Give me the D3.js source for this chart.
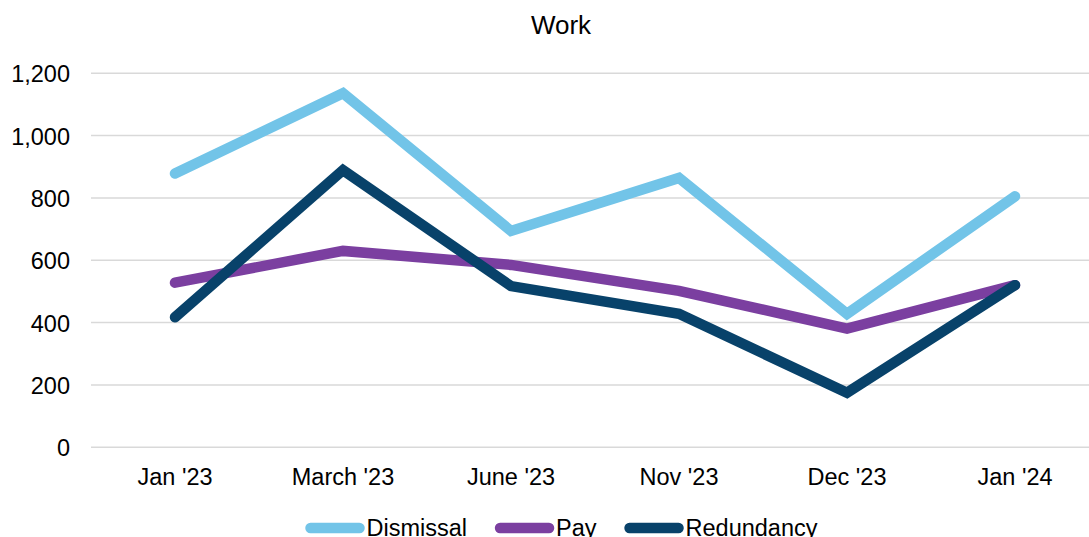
<!DOCTYPE html>
<html>
<head>
<meta charset="utf-8">
<script src="https://cdn.jsdelivr.net/npm/d3@7"></script>
<style>
  html, body { margin: 0; padding: 0; background: #fff; }
  svg { display: block; font-family: "Liberation Sans", Arial, sans-serif; }
</style>
</head>
<body>
<svg id="chart" width="1089" height="537"></svg>
<script>
const categories = ["Jan '23", "March '23", "June '23", "Nov '23", "Dec '23", "Jan '24"];
const dismissal  = [878, 1136, 694, 864, 428, 805];
const pay        = [528, 630, 585, 502, 381, 520];
const redundancy = [417, 889, 517, 428, 175, 520];
const yTicks     = [0, 200, 400, 600, 800, 1000, 1200];
const seriesNames  = ["Dismissal", "Pay", "Redundancy"];
const seriesColors = ["#72C4E8", "#7B3FA0", "#08426A"];
const title = "Work";

(function () {
const series = [dismissal, pay, redundancy].map((vals, i) => ({
  name: seriesNames[i], color: seriesColors[i], values: vals
}));

const svg = d3.select("#chart");
const plotLeft = 91, plotTop = 73.2, plotBottom = 447.3;
const band = 168;
const fs = 23.5;

const x = d3.scaleBand().domain(categories).range([plotLeft, plotLeft + band * categories.length]).paddingInner(0).paddingOuter(0);
const y = d3.scaleLinear().domain([0, 1200]).range([plotBottom, plotTop]);

// gridlines
svg.append("g").selectAll("line").data(yTicks).join("line")
  .attr("x1", plotLeft).attr("x2", plotLeft + band * categories.length)
  .attr("y1", d => y(d)).attr("y2", d => y(d))
  .attr("stroke", "#d9d9d9").attr("stroke-width", 1.5);

// y axis labels
const yAxis = d3.axisLeft(y).tickValues(yTicks).tickSize(0).tickPadding(0).tickFormat(d3.format(","));
const yg = svg.append("g").attr("transform", "translate(70,0)").call(yAxis);
yg.select(".domain").remove();
yg.selectAll("text").attr("font-size", fs).attr("fill", "#000")
  .attr("font-family", "Liberation Sans, Arial, sans-serif").attr("dy", "0.36em");

// x axis labels
const xAxis = d3.axisBottom(x).tickSize(0).tickPadding(0);
const xg = svg.append("g").attr("transform", `translate(0,${plotBottom})`).call(xAxis);
xg.select(".domain").remove();
xg.selectAll("text").attr("font-size", fs).attr("fill", "#000")
  .attr("font-family", "Liberation Sans, Arial, sans-serif").attr("dy", null).attr("y", 37.5);

// lines
const line = d3.line()
  .x((d, i) => x(categories[i]) + x.bandwidth() / 2)
  .y(d => y(d));

svg.append("g").selectAll("path").data(series).join("path")
  .attr("d", d => line(d.values))
  .attr("fill", "none")
  .attr("stroke", d => d.color)
  .attr("stroke-width", 10.5)
  .attr("stroke-linecap", "round")
  .attr("stroke-linejoin", "miter");

// title
svg.append("text").attr("x", 561).attr("y", 34).attr("text-anchor", "middle")
  .attr("font-size", 26).attr("fill", "#000").text(title);

// legend
const lg = svg.append("g");
const symW = 59, symGap = 2, itemGap = 28;
let cx = 0;
series.forEach(s => {
  const g = lg.append("g");
  g.append("line").attr("x1", cx + 5).attr("x2", cx + symW - 5).attr("y1", 0).attr("y2", 0)
    .attr("stroke", s.color).attr("stroke-width", 10.5).attr("stroke-linecap", "round");
  const t = g.append("text").attr("x", cx + symW + symGap).attr("y", 8).attr("font-size", fs)
    .attr("fill", "#000").text(s.name);
  const tw = t.node().getComputedTextLength();
  cx += symW + symGap + tw + itemGap;
});
const total = cx - itemGap;
lg.attr("transform", `translate(${561.5 - total / 2},528)`);
})();
</script>
</body>
</html>
